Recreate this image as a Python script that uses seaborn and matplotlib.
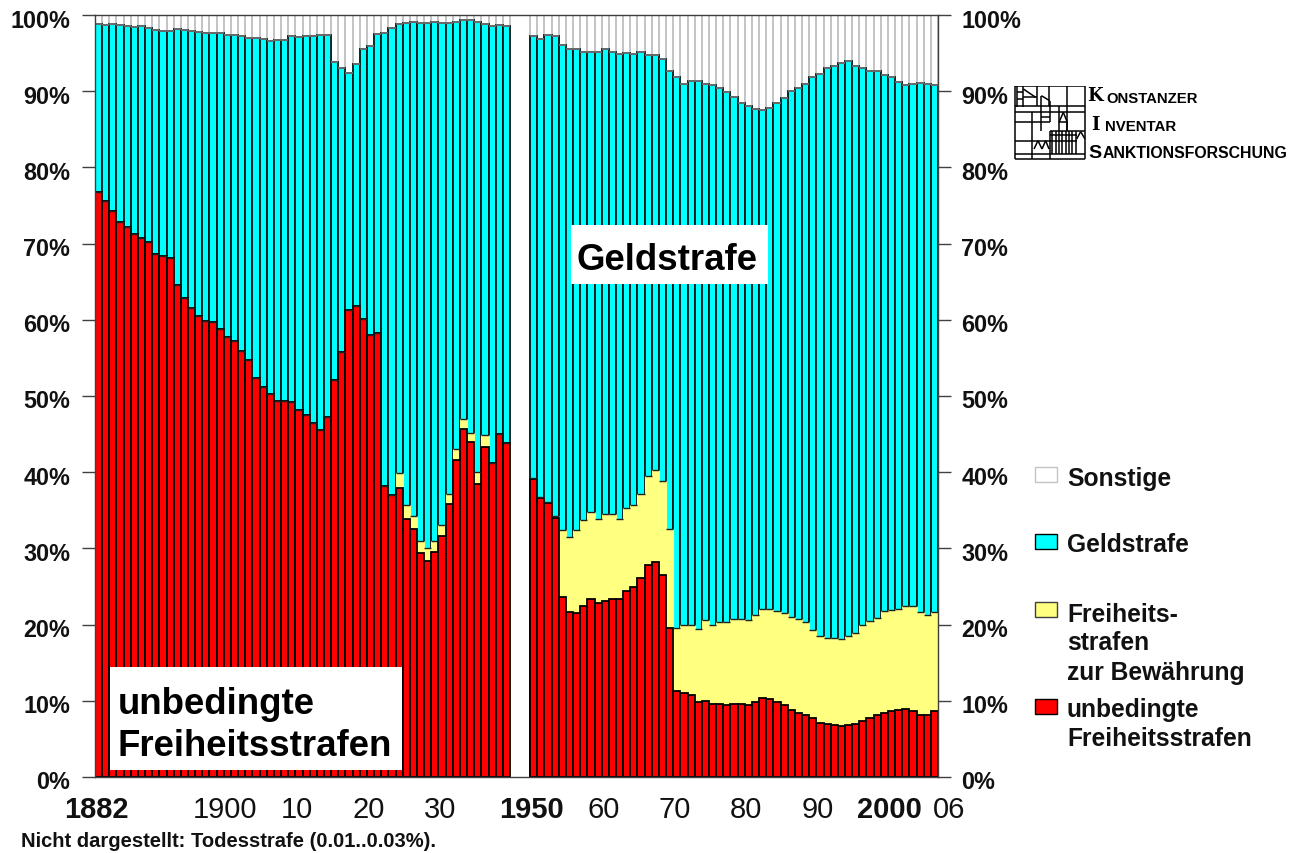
import numpy as np
import pandas as pd
import seaborn as sns
import matplotlib
matplotlib.use('Agg')
import matplotlib.pyplot as plt
from matplotlib.patches import Rectangle
from matplotlib.transforms import ScaledTranslation

W, H = 1297, 854

years_a = list(range(1882, 1940))
years_b = list(range(1950, 2007))

# cumulative shares in percent
red_a = [76.8, 75.6, 74.3, 72.9, 72.2, 71.3, 70.7, 70.2, 68.7, 68.4,
         68.1, 64.6, 62.9, 61.6, 60.5, 59.8, 59.7, 58.8, 57.8, 57.2,
         55.9, 54.7, 52.4, 51.2, 50.2, 49.3, 49.4, 49.2, 48.2, 47.5,
         46.5, 45.5, 47.2, 52.1, 55.8, 61.3, 61.8, 60.1, 58.0, 58.3,
         38.2, 37.0, 37.9, 33.9, 32.5, 29.4, 28.4, 29.5, 31.6, 35.8,
         41.6, 45.7, 43.9, 38.5, 43.3, 41.2, 45.0, 43.8]
yellow_a = [76.8, 75.6, 74.3, 72.9, 72.2, 71.3, 70.7, 70.2, 68.7, 68.4,
            68.1, 64.6, 62.9, 61.6, 60.5, 59.8, 59.7, 58.8, 57.8, 57.2,
            55.9, 54.7, 52.4, 51.2, 50.2, 49.3, 49.4, 49.2, 48.2, 47.5,
            46.5, 45.5, 47.2, 52.1, 55.8, 61.3, 61.8, 60.1, 58.0, 58.3,
            38.2, 37.0, 39.9, 35.7, 34.2, 31.0, 30.0, 31.0, 33.1, 37.2,
            43.1, 47.0, 45.1, 40.0, 44.9, 41.2, 45.0, 43.8]
cyan_a = [98.8, 98.7, 98.8, 98.7, 98.6, 98.4, 98.5, 98.3, 98.0, 97.9,
          97.9, 98.1, 98.0, 97.9, 97.8, 97.7, 97.6, 97.6, 97.4, 97.4,
          97.2, 97.0, 97.0, 96.8, 96.6, 96.7, 96.7, 97.2, 97.1, 97.2,
          97.2, 97.4, 97.4, 93.8, 93.0, 92.4, 93.6, 95.5, 95.9, 97.5,
          97.6, 98.3, 98.8, 99.0, 99.1, 99.0, 99.0, 99.1, 99.0, 99.0,
          99.1, 99.3, 99.3, 99.1, 98.8, 98.6, 98.7, 98.6]

red_b = [39.1, 36.6, 36.0, 34.0, 23.6, 21.7, 21.5, 22.5, 23.4, 22.8,
         23.1, 23.4, 23.3, 24.4, 24.9, 26.1, 27.8, 28.2, 26.5, 19.5,
         11.3, 11.0, 10.7, 9.8, 10.0, 9.6, 9.6, 9.4, 9.6, 9.6,
         9.5, 9.8, 10.4, 10.3, 9.9, 9.4, 8.8, 8.4, 8.1, 7.8,
         7.1, 6.9, 6.8, 6.7, 6.8, 6.9, 7.3, 7.7, 8.1, 8.4,
         8.7, 8.8, 8.9, 8.7, 8.2, 8.2, 8.6]
yellow_b = [39.2, 36.8, 36.1, 34.2, 32.4, 31.5, 32.4, 33.7, 34.8, 33.9,
            34.5, 34.5, 33.9, 35.3, 35.7, 37.2, 39.5, 40.3, 38.9, 32.5,
            19.6, 19.9, 19.9, 19.4, 20.6, 19.9, 20.3, 20.3, 20.7, 20.7,
            20.6, 21.2, 22.1, 22.0, 21.8, 21.5, 21.0, 20.7, 20.3, 19.3,
            18.5, 18.2, 18.2, 18.1, 18.5, 18.9, 19.9, 20.5, 20.9, 21.8,
            21.9, 22.1, 22.5, 22.4, 21.6, 21.3, 21.7]
cyan_b = [97.2, 96.9, 97.4, 97.2, 96.1, 95.5, 95.5, 95.2, 95.1, 95.1,
          95.5, 95.1, 94.9, 95.0, 94.9, 95.1, 94.8, 94.8, 94.2, 92.6,
          91.8, 90.9, 91.4, 91.4, 91.0, 90.8, 90.4, 89.9, 89.2, 88.4,
          88.0, 87.6, 87.5, 87.8, 88.4, 89.1, 90.0, 90.4, 90.9, 91.8,
          92.3, 93.0, 93.3, 93.7, 93.9, 93.3, 93.1, 92.7, 92.6, 92.1,
          91.8, 91.2, 90.8, 91.0, 91.1, 90.9, 90.8]

tick_years = [1882, 1900, 1910, 1920, 1930, 1950, 1960, 1970, 1980, 1990, 2000, 2006]
tick_labels = ['1882', '1900', '10', '20', '30', '1950', '60', '70', '80', '90', '2000', '06']
bold_ticks = ['1882', '1950', '2000']

GREY = '#c4c4c4'
CYAN = '#00ffff'
YELLOW = '#ffff80'
RED = '#ff0000'
SECOND_START = 60.8  # slot of 1950, the war years are left out


def year_pos(y):
    return y - 1882 if y < 1945 else y - 1950 + SECOND_START


sns.set_theme(style='white')
plt.rcParams['font.family'] = ['Liberation Sans', 'DejaVu Sans']

df = pd.DataFrame({
    'pos': [year_pos(y) for y in years_a + years_b],
    'sonstige': 100.0,
    'geld': cyan_a + cyan_b,
    'bewaehrung': yellow_a + yellow_b,
    'unbedingt': red_a + red_b,
})

fig = plt.figure(figsize=(W / 100, H / 100), dpi=100)
ax = fig.add_axes([95 / W, 1 - 778 / H, 843 / W, 762 / H])

# bars are cumulative, drawn from the back to the front
layers = [('sonstige', 'white', GREY, 1.4),
          ('geld', CYAN, '#001818', 1.3),
          ('bewaehrung', YELLOW, YELLOW, 0.8),
          ('unbedingt', RED, 'black', 1.3)]
for col, color, edge, lw in layers:
    sns.barplot(data=df, x='pos', y=col, color=color, saturation=1, width=1,
                native_scale=True, errorbar=None, edgecolor=edge, linewidth=lw, ax=ax)

# dark step line where the cyan stops on the yellow, softer grey on top of the cyan
ax.hlines(df['bewaehrung'], df['pos'] - 0.5, df['pos'] + 0.5, color='#202020', lw=1.0)
ax.hlines(df['geld'], df['pos'] - 0.5, df['pos'] + 0.5, color='#787878', lw=1.2)

ax.set_xlim(-0.5, SECOND_START + 56.5)
ax.set_ylim(0, 100)
ax.set_xlabel('')
ax.set_ylabel('')
for s in ax.spines.values():
    s.set_visible(True)
    s.set_color('#404040')
    s.set_linewidth(1.0)
    s.set_zorder(5)

yt = np.arange(0, 101, 10)
ax.set_yticks(yt)
ax.set_yticklabels([f'{v}%' for v in yt])
ax.tick_params(axis='y', which='both', left=True, right=True, labelleft=True, labelright=True,
               length=9.5, width=1.0, color='#404040', pad=8.5, labelsize=16.8)
shift_l = ScaledTranslation(0, -2.5 / 100, fig.dpi_scale_trans)
shift_r = ScaledTranslation(-1.5 / 100, -2.5 / 100, fig.dpi_scale_trans)
for t in ax.yaxis.get_major_ticks():
    for lab, sh in ((t.label1, shift_l), (t.label2, shift_r)):
        lab.set_fontweight('bold')
        lab.set_color('#111111')
        lab.set_transform(lab.get_transform() + sh)

ax.set_xticks([year_pos(y) for y in tick_years])
ax.set_xticklabels(tick_labels)
ax.tick_params(axis='x', length=0, pad=12.8, labelsize=21, bottom=False)
shift_x = ScaledTranslation(-2 / 100, 0, fig.dpi_scale_trans)
for lab in ax.get_xticklabels():
    lab.set_color('#111111')
    lab.set_transform(lab.get_transform() + shift_x)
    if lab.get_text() in bold_ticks:
        lab.set_fontweight('bold')
    if lab.get_text() == '06':
        lab.set_ha('left')


def px_rect(x0, y0, x1, y1, **kw):
    fig.add_artist(Rectangle((x0 / W, 1 - y1 / H), (x1 - x0) / W, (y1 - y0) / H,
                             transform=fig.transFigure, zorder=2, **kw))


def px_text(x, y, s, size=17.7, weight='bold', **kw):
    fig.text(x / W, 1 - y / H, s, fontsize=size, fontweight=weight, va='center',
             color=kw.pop('color', '#111111'), **kw)


# white label boxes on the bars
px_rect(110, 668, 402, 771, facecolor='white', edgecolor='none')
px_text(118, 704, 'unbedingte', size=26.4, color='black')
px_text(118, 747, 'Freiheitsstrafen', size=26.4, color='black')
px_rect(571, 226, 768, 285, facecolor='white', edgecolor='none')
px_text(577, 260, 'Geldstrafe', size=26.4, color='black')

# legend by hand, the spacing is uneven
for y0, color, edge in [(468, 'white', GREY), (535, CYAN, 'black'),
                        (603, YELLOW, '#404040'), (700, RED, 'black')]:
    px_rect(1035, y0, 1057, y0 + 15, facecolor=color, edgecolor=edge, linewidth=1.0)
for y, s in [(479, 'Sonstige'), (545, 'Geldstrafe'), (615, 'Freiheits-'), (643, 'strafen'),
             (673, 'zur Bewährung'), (710, 'unbedingte'), (739, 'Freiheitsstrafen')]:
    px_text(1067, y, s)

px_text(21, 842, 'Nicht dargestellt: Todesstrafe (0.01..0.03%).', size=14.5)

# logo, drawn in its own little axes (units are a 3x crop of the original)
logo = fig.add_axes([1014 / W, 1 - 161 / H, 72 / W, 74 / H])
logo.set_xlim(250, 466)
logo.set_ylim(483, 261)
logo.axis('off')
segs = [(253, 262, 463, 262), (253, 480, 463, 480), (253, 262, 253, 480), (463, 262, 463, 480),
        (355, 262, 355, 320), (408, 262, 408, 395), (305, 340, 305, 480), (357, 395, 357, 480),
        (253, 320, 463, 320), (253, 340, 463, 340), (253, 370, 357, 370), (253, 425, 357, 425),
        (253, 465, 463, 465), (318, 262, 318, 320), (278, 262, 278, 325), (258, 262, 258, 325),
        (258, 280, 278, 280), (258, 300, 278, 300), (278, 270, 315, 295), (278, 295, 318, 295),
        (332, 290, 357, 305), (332, 290, 332, 395), (357, 305, 357, 370), (332, 355, 357, 355),
        (385, 320, 385, 370), (385, 370, 398, 340), (398, 340, 410, 370), (385, 370, 410, 370),
        (385, 370, 385, 395), (410, 370, 410, 395), (357, 395, 463, 395), (438, 420, 450, 398),
        (450, 398, 463, 420), (357, 408, 438, 408), (357, 425, 438, 425), (310, 450, 322, 425),
        (322, 425, 334, 450), (334, 450, 345, 425), (345, 425, 355, 450)]
segs += [(x, 395, x, 465) for x in (365, 375, 385, 395, 405, 415, 425, 435)]
for x0, y0, x1, y1 in segs:
    logo.plot([x0, x1], [y0, y1], color='black', lw=1.1, solid_capstyle='butt')

SERIF = ['DejaVu Serif']
px_text(1087, 96, 'K', size=13, family=SERIF, color='black')
px_text(1106, 99, 'ONSTANZER', size=10.7, color='black')
px_text(1091, 125, 'I', size=13, family=SERIF, color='black')
px_text(1105, 127, 'NVENTAR', size=10.8, color='black')
px_text(1088, 153, 'S', size=14, color='black')
px_text(1103, 154, 'ANKTIONSFORSCHUNG', size=11.4, color='black')

fig.savefig('out.png', dpi=100)
